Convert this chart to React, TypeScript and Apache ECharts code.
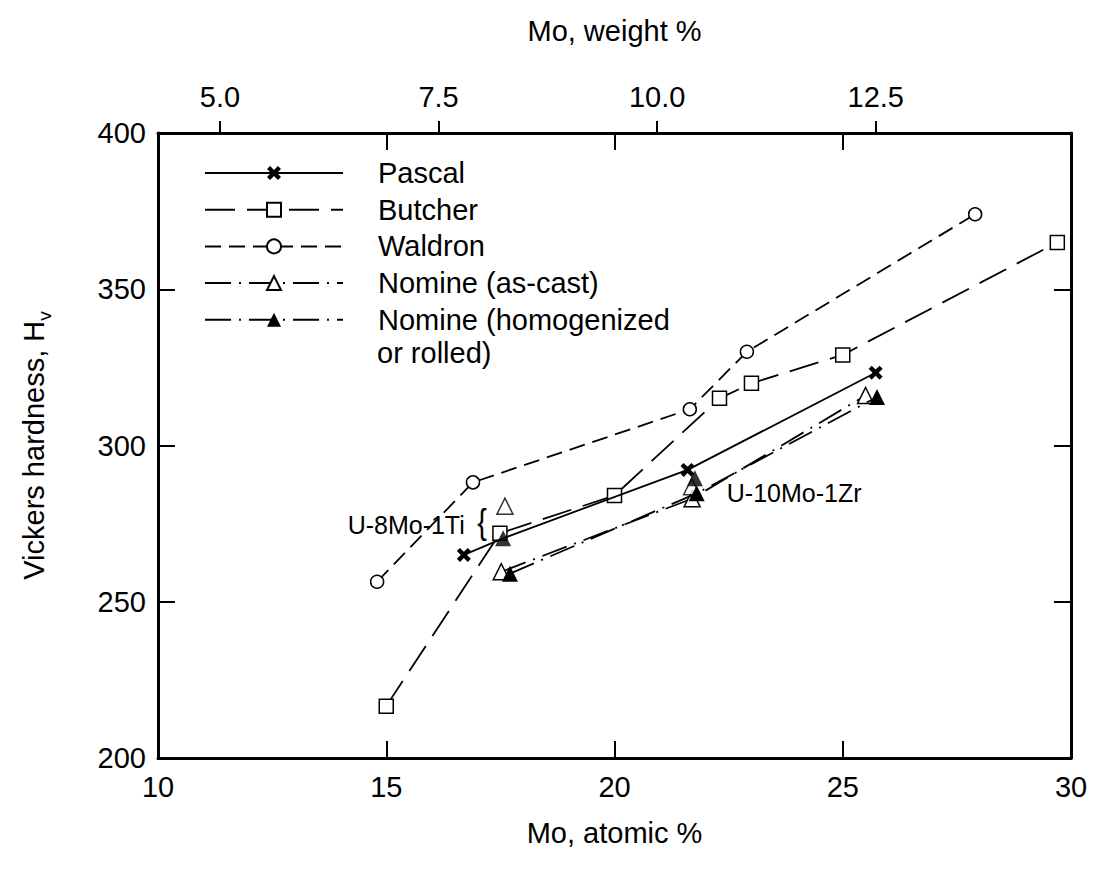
import React, { useEffect, useRef } from 'react';
import * as echarts from 'echarts';

// ---- data (Mo atomic %, Vickers hardness Hv) ----
const pascalData = [[16.7, 265], [17.56, 270.3], [21.6, 292.2], [25.72, 323.3]];
const pascalMarkerShown = [true, false, true, true];
const butcherData = [[15.0, 216.6], [17.49, 271.9], [20.0, 284], [22.3, 315.1], [23.0, 319.9], [25.0, 329], [29.7, 365]];
const waldronData = [[14.8, 256.4], [16.9, 288.2], [21.65, 311.6], [22.9, 330], [27.9, 374]];
const nomineCastData = [[17.52, 259.6], [21.7, 283], [25.5, 316]];
const nomineHomData = [[17.71, 259], [21.8, 284.7], [25.75, 315.5]];
// unconnected alloy points (U-8Mo-1Ti, U-10Mo-1Zr)
const alloyCastData = [[17.6, 280.6], [21.69, 286.8]];
const alloyHomData = [[17.56, 270.3], [21.76, 289.5]];

const seriesNames = ['Pascal', 'Butcher', 'Waldron', 'Nomine (as-cast)', 'Nomine (homogenized or rolled)'];

// axes
const atomicMin = 10, atomicMax = 30, atomicStep = 5;
const hvMin = 200, hvMax = 400, hvStep = 50;
const weightMin = 4.291, weightMax = 14.733;
const weightTicks = [5.0, 7.5, 10.0, 12.5];

// annotations
const annotationLabels = ['U-8Mo-1Ti', 'U-10Mo-1Zr'];
const annotationAnchors = [[16.72, 274.6], [22.46, 284.8]];
const braceAnchor = [17.1, 275.6];

const FONT = 'Liberation Sans, Arial, sans-serif';
const xPath = 'path://M0,2.2L2.2,0L5,2.8L7.8,0L10,2.2L7.2,5L10,7.8L7.8,10L5,7.2L2.2,10L0,7.8L2.8,5Z';
const LW = 1.8;
const openItem = { color: '#fff', borderColor: '#000', borderWidth: 1.5 };

export default function App() {
  const ref = useRef<HTMLDivElement>(null);
  useEffect(() => {
    document.body.style.margin = '0';
    const chart = echarts.init(ref.current!, null, { renderer: 'svg' });
    const axisLine = { show: true, lineStyle: { color: '#000', width: 3 } };
    const innerTick = { show: true, inside: true, length: 17, lineStyle: { color: '#000', width: 2 } };
    const labelStyle = { color: '#000', fontSize: 29, fontFamily: FONT };
    const nameStyle = { color: '#000', fontSize: 29, fontFamily: FONT };
    const gridRect = { left: 158, right: 25, top: 133, bottom: 115 };

    const option: any = {
      animation: false,
      backgroundColor: '#fff',
      textStyle: { fontFamily: FONT },
      grid: [gridRect, { ...gridRect }],
      xAxis: [
        {
          type: 'value', gridIndex: 0, position: 'bottom',
          min: atomicMin, max: atomicMax, interval: atomicStep,
          axisLine, axisTick: innerTick,
          axisLabel: { ...labelStyle, margin: 14 },
          splitLine: { show: false },
          name: 'Mo, atomic %', nameLocation: 'middle', nameGap: 60, nameTextStyle: nameStyle,
        },
        {
          type: 'value', gridIndex: 0, position: 'top',
          min: weightMin, max: weightMax,
          axisLine,
          axisTick: { show: true, inside: false, length: 12, customValues: weightTicks, lineStyle: { color: '#000', width: 2 } },
          axisLabel: { ...labelStyle, margin: 22, customValues: weightTicks, formatter: (v: number) => v.toFixed(1) },
          splitLine: { show: false },
          name: 'Mo, weight %', nameLocation: 'middle', nameGap: 88, nameTextStyle: nameStyle,
        },
        {
          type: 'value', gridIndex: 1, position: 'top',
          min: atomicMin, max: atomicMax, interval: atomicStep,
          axisLine: { show: false }, axisTick: innerTick,
          axisLabel: { show: false }, splitLine: { show: false },
        },
      ],
      yAxis: [
        {
          type: 'value', gridIndex: 0, position: 'left',
          min: hvMin, max: hvMax, interval: hvStep,
          axisLine, axisTick: innerTick,
          axisLabel: { ...labelStyle, margin: 12 },
          splitLine: { show: false },
          name: 'Vickers hardness, H{sub|v}', nameLocation: 'middle', nameGap: 104,
          nameTextStyle: { ...nameStyle, rich: { sub: { fontSize: 19, fontFamily: FONT, color: '#000', padding: [22, 0, 0, 0] } } },
        },
        {
          type: 'value', gridIndex: 0, position: 'right',
          min: hvMin, max: hvMax, interval: hvStep,
          axisLine, axisTick: innerTick,
          axisLabel: { show: false }, splitLine: { show: false },
        },
        { type: 'value', gridIndex: 1, min: hvMin, max: hvMax, show: false },
      ],
      legend: {
        orient: 'vertical', left: 204, top: 158, padding: 0,
        itemWidth: 138, itemHeight: 17.5, itemGap: 6.7,
        data: seriesNames,
        formatter: (n: string) => (n === seriesNames[4] ? 'Nomine (homogenized' : n),
        textStyle: { color: '#000', fontSize: 29, fontFamily: FONT, lineHeight: 30, padding: [0, 0, 0, 30] },
      },
      series: [
        {
          name: seriesNames[0], type: 'line', xAxisIndex: 0, yAxisIndex: 0,
          data: pascalData.map((p, i) => ({ value: p, symbol: pascalMarkerShown[i] ? xPath : 'none' })),
          symbol: xPath, symbolSize: 14, symbolKeepAspect: true,
          lineStyle: { color: '#000', width: LW, type: 'solid' }, itemStyle: { color: '#000' }, z: 3,
        },
        {
          name: seriesNames[1], type: 'line', xAxisIndex: 0, yAxisIndex: 0, data: butcherData,
          symbol: 'rect', symbolSize: 14,
          lineStyle: { color: '#000', width: LW, type: [30, 12] }, itemStyle: openItem, z: 2,
        },
        {
          name: seriesNames[2], type: 'line', xAxisIndex: 0, yAxisIndex: 0, data: waldronData,
          symbol: 'circle', symbolSize: 13,
          lineStyle: { color: '#000', width: LW, type: [16, 8] }, itemStyle: openItem, z: 2,
        },
        {
          name: seriesNames[3], type: 'line', xAxisIndex: 0, yAxisIndex: 0, data: nomineCastData,
          symbol: 'triangle', symbolSize: 16,
          lineStyle: { color: '#000', width: LW, type: [26, 8, 2, 8] }, itemStyle: openItem, z: 4,
        },
        {
          name: seriesNames[4], type: 'line', xAxisIndex: 0, yAxisIndex: 0, data: nomineHomData,
          symbol: 'triangle', symbolSize: 16,
          lineStyle: { color: '#000', width: LW, type: [26, 8, 2, 8] }, itemStyle: { color: '#000' }, z: 5,
        },
        {
          name: 'Alloys (as-cast)', type: 'scatter', xAxisIndex: 0, yAxisIndex: 0, data: alloyCastData,
          symbol: 'triangle', symbolSize: 16, itemStyle: openItem, z: 4,
        },
        {
          name: 'Alloys (homogenized)', type: 'scatter', xAxisIndex: 0, yAxisIndex: 0, data: alloyHomData,
          symbol: 'triangle', symbolSize: 16, itemStyle: { color: '#000' }, z: 5,
        },
      ],
    };
    chart.setOption(option);

    const toPx = (p: number[]) => chart.convertToPixel({ xAxisIndex: 0, yAxisIndex: 0 }, p) as number[];
    const a0 = toPx(annotationAnchors[0]);
    const a1 = toPx(annotationAnchors[1]);
    const br = toPx(braceAnchor);
    chart.setOption({
      graphic: [
        { type: 'text', x: a0[0], y: a0[1], style: { text: annotationLabels[0], fill: '#000', fontSize: 25, fontFamily: FONT, align: 'right', verticalAlign: 'middle' } },
        { type: 'text', x: a1[0], y: a1[1], style: { text: annotationLabels[1], fill: '#000', fontSize: 25, fontFamily: FONT, align: 'left', verticalAlign: 'middle' } },
        { type: 'text', x: br[0], y: br[1], scaleX: 0.8, style: { text: '{', fill: '#000', fontSize: 36, fontFamily: FONT, align: 'center', verticalAlign: 'middle' } },
        { type: 'text', x: 377, y: 353, style: { text: 'or rolled)', fill: '#000', fontSize: 29, fontFamily: FONT, align: 'left', verticalAlign: 'middle' } },
      ],
    });
    return () => chart.dispose();
  }, []);
  return <div ref={ref} style={{ width: 1096, height: 873 }} />;
}
